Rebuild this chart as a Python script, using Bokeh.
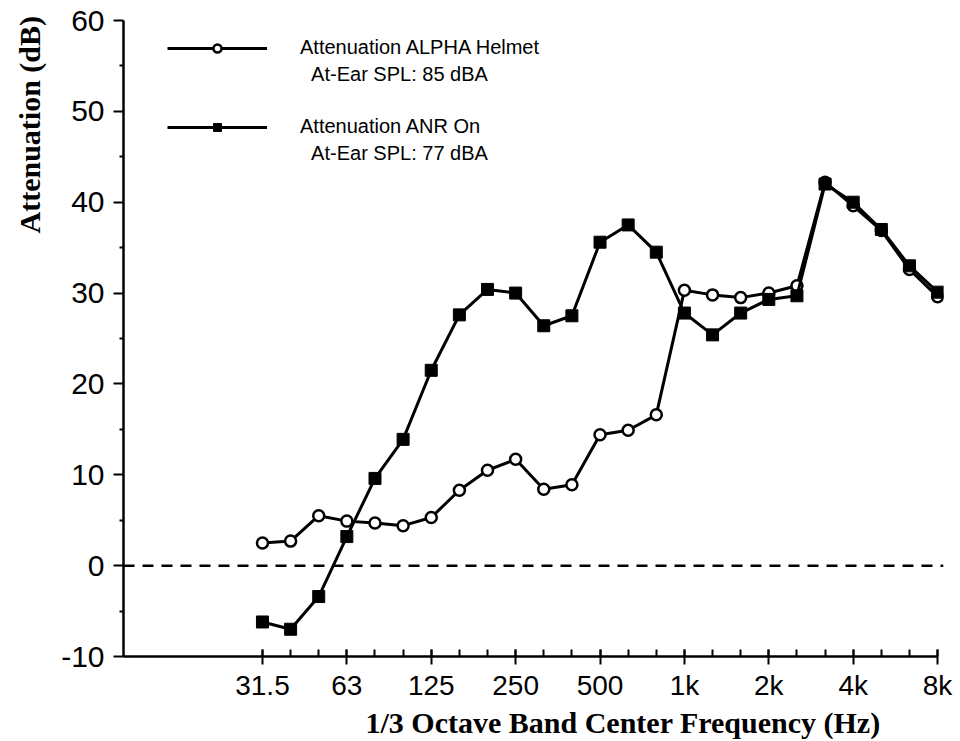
import numpy as np
from bokeh.plotting import figure
from bokeh.models import (Range1d, FixedTicker, Span, Legend, LegendItem, Title)
from bokeh.embed import file_html
from bokeh.resources import INLINE

# ---------------- data ----------------
bands = ["31.5", "40", "50", "63", "80", "100", "125", "160", "200", "250",
         "315", "400", "500", "630", "800", "1k", "1.25k", "1.6k", "2k", "2.5k",
         "3.15k", "4k", "5k", "6.3k", "8k"]
helmet = [2.5, 2.7, 5.5, 4.9, 4.7, 4.4, 5.3, 8.3, 10.5, 11.7,
          8.4, 8.9, 14.4, 14.9, 16.6, 30.3, 29.8, 29.5, 30.0, 30.8,
          42.2, 39.6, 36.9, 32.6, 29.6]
anr = [-6.2, -7.0, -3.4, 3.2, 9.6, 13.9, 21.5, 27.6, 30.4, 30.0,
       26.4, 27.5, 35.6, 37.5, 34.5, 27.8, 25.4, 27.8, 29.3, 29.7,
       42.0, 40.0, 37.0, 33.0, 30.1]
tick_labels = ["31.5", "63", "125", "250", "500", "1k", "2k", "4k", "8k"]
y_ticks = [-10, 0, 10, 20, 30, 40, 50, 60]
y_minor = [-5, 5, 15, 25, 35, 45, 55]
legend_labels = ["Attenuation ALPHA Helmet", "\u00a0\u00a0At-Ear SPL: 85 dBA",
                 "Attenuation ANR On", "\u00a0\u00a0At-Ear SPL: 77 dBA"]
x_title = "1/3 Octave Band Center Frequency (Hz)"
y_title = "Attenuation (dB)"

x = list(range(len(bands)))
major_idx = [bands.index(t) for t in tick_labels]

SANS = "Liberation Sans"
SERIF = "Liberation Serif"

p = figure(frame_width=820, frame_height=636, output_backend="svg",
           toolbar_location=None,
           x_range=Range1d(-4.94, 24.21), y_range=Range1d(-10, 60),
           min_border_left=123, min_border_right=17, min_border_top=20,
           min_border_bottom=85)
p.outline_line_color = None
p.grid.visible = False
p.background_fill_color = "white"
p.border_fill_color = "white"

# axes
xa = p.xaxis[0]
xa.ticker = FixedTicker(ticks=major_idx, minor_ticks=x)
xa.major_label_overrides = {i: t for i, t in zip(major_idx, tick_labels)}
xa.bounds = (-4.94, 24)
xa.axis_line_width = 2.5
xa.major_tick_line_width = 2
xa.minor_tick_line_width = 2
xa.major_tick_in = 7
xa.major_tick_out = 8
xa.minor_tick_in = 7
xa.minor_tick_out = 0
xa.major_label_standoff = 5
xa.major_label_text_font = SANS
xa.major_label_text_font_size = "28px"
xa.major_label_text_color = "black"

ya = p.yaxis[0]
ya.ticker = FixedTicker(ticks=y_ticks, minor_ticks=y_minor)
ya.major_label_overrides = {v: str(v) for v in y_ticks}
ya.axis_line_width = 2.5
ya.major_tick_line_width = 2
ya.minor_tick_line_width = 2
ya.major_tick_in = 0
ya.major_tick_out = 10
ya.minor_tick_in = 0
ya.minor_tick_out = 4
ya.major_label_standoff = 9
ya.major_label_text_font = SANS
ya.major_label_text_font_size = "30px"
ya.major_label_text_color = "black"

# zero line
p.add_layout(Span(location=0, dimension="width", line_color="black",
                  line_width=2.5, line_dash="11 8"))

# data
lh = p.line(x, helmet, line_color="black", line_width=3)
sh = p.scatter(x, helmet, marker="circle", size=11, fill_color="white",
               line_color="black", line_width=2.5)
la = p.line(x, anr, line_color="black", line_width=3)
sa = p.scatter(x, anr, marker="square", size=12, fill_color="black",
               line_color="black")
dummy = p.line([], [], line_alpha=0)

def make_legend(items, loc):
    lg = Legend(items=items, location=loc, orientation="vertical",
                glyph_width=100, glyph_height=20, label_height=27,
                label_standoff=33, spacing=0, padding=0, margin=0,
                border_line_color=None, background_fill_alpha=0,
                label_text_font=SANS, label_text_font_size="20px",
                label_text_color="black")
    p.add_layout(lg)

make_legend([LegendItem(label=legend_labels[0], renderers=[lh, sh]),
             LegendItem(label=legend_labels[1], renderers=[dummy])], (44, 568))
make_legend([LegendItem(label=legend_labels[2], renderers=[la, sa]),
             LegendItem(label=legend_labels[3], renderers=[dummy])], (44, 489))

# axis titles
p.add_layout(Title(text=x_title, align="left", offset=242, standoff=0,
                   text_font=SERIF, text_font_style="bold",
                   text_font_size="30px", text_color="black"), "below")
p.add_layout(Title(text=y_title, align="left", offset=423, standoff=22,
                   vertical_align="top",
                   text_font=SERIF, text_font_style="bold",
                   text_font_size="30px", text_color="black"), "left")

open("out.html", "w").write(file_html(p, INLINE))
